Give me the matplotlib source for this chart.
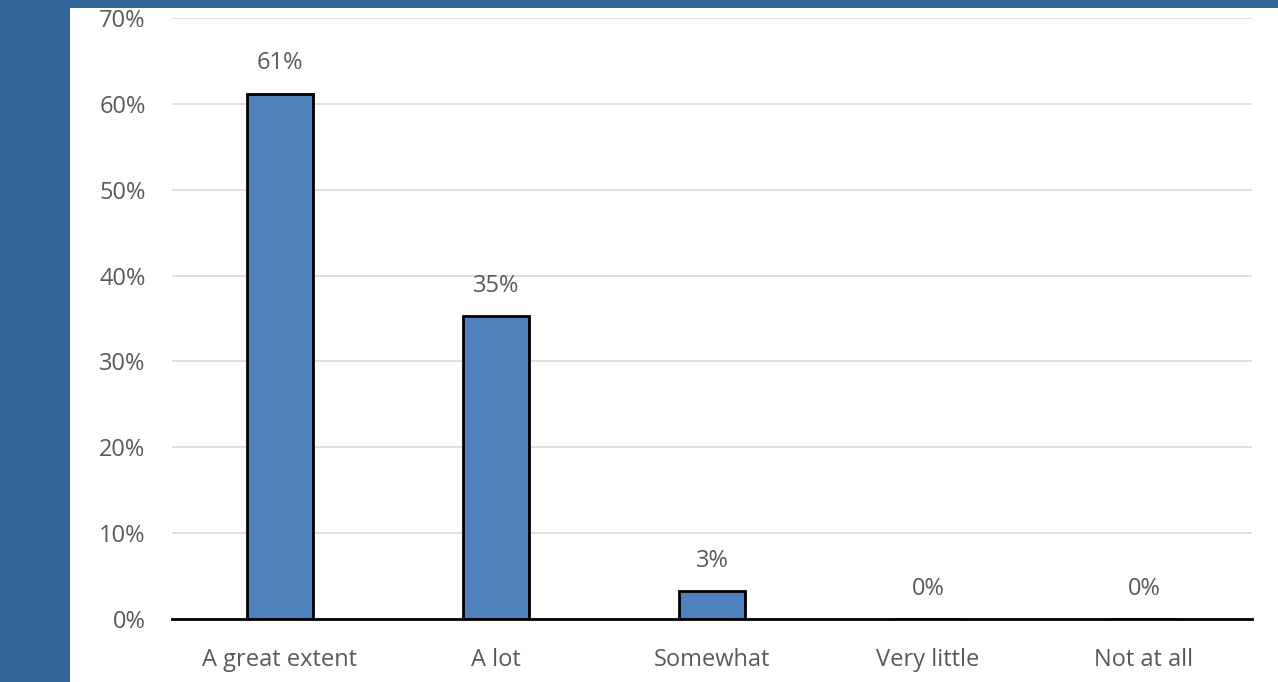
import matplotlib
matplotlib.use("Agg")
import matplotlib.pyplot as plt
from matplotlib.patches import Rectangle
from matplotlib.ticker import FuncFormatter

categories = ["A great extent", "A lot", "Somewhat", "Very little", "Not at all"]
values = [61.2, 35.3, 3.3, 0.0, 0.0]
labels = ["61%", "35%", "3%", "0%", "0%"]
yticks = [0, 10, 20, 30, 40, 50, 60, 70]

W, H = 1278, 682
fig = plt.figure(figsize=(W / 100, H / 100), dpi=100)
fig.patch.set_facecolor("#336699")
# white panel
fig.patches.append(Rectangle((70 / W, 0), 1 - 70 / W, 1 - 8 / H, transform=fig.transFigure,
                             facecolor="white", edgecolor="none", zorder=-10))

ax = fig.add_axes([172 / W, 1 - 619 / H, (1252 - 172) / W, (619 - 18) / H])
ax.set_zorder(5)
ax.set_facecolor("none")
plt.rcParams["font.family"] = ["Open Sans", "DejaVu Sans"]
gray = "#595959"
fs = 17

x = list(range(len(categories)))
ax.bar(x, values, width=0.31, color="#4f81bd", edgecolor="black", linewidth=2, zorder=3)
for xi, v, lab in zip(x, values, labels):
    ax.annotate(lab, (xi, v), xytext=(0, 13), textcoords="offset points",
                ha="center", va="bottom", fontsize=fs, color=gray, family="Open Sans")

ax.set_xlim(-0.5, len(categories) - 0.5)
ax.set_ylim(0, 70)
ax.set_yticks(yticks)
ax.yaxis.set_major_formatter(FuncFormatter(lambda v, p: f"{int(v)}%"))
ax.set_xticks(x)
ax.set_xticklabels(categories)
ax.grid(axis="y", color="#d9d9d9", linewidth=1.2, zorder=0)
ax.set_axisbelow(True)
for s in ["left", "right", "top"]:
    ax.spines[s].set_visible(False)
ax.spines["bottom"].set_linewidth(2)
ax.spines["bottom"].set_color("black")
ax.spines["bottom"].set_zorder(4)
ax.tick_params(axis="both", length=0, labelsize=fs, labelcolor=gray)
ax.tick_params(axis="y", pad=19)
ax.tick_params(axis="x", pad=21)
for t in ax.get_xticklabels() + ax.get_yticklabels():
    t.set_family("Open Sans")

fig.savefig("out.png", dpi=100, facecolor=fig.get_facecolor())
